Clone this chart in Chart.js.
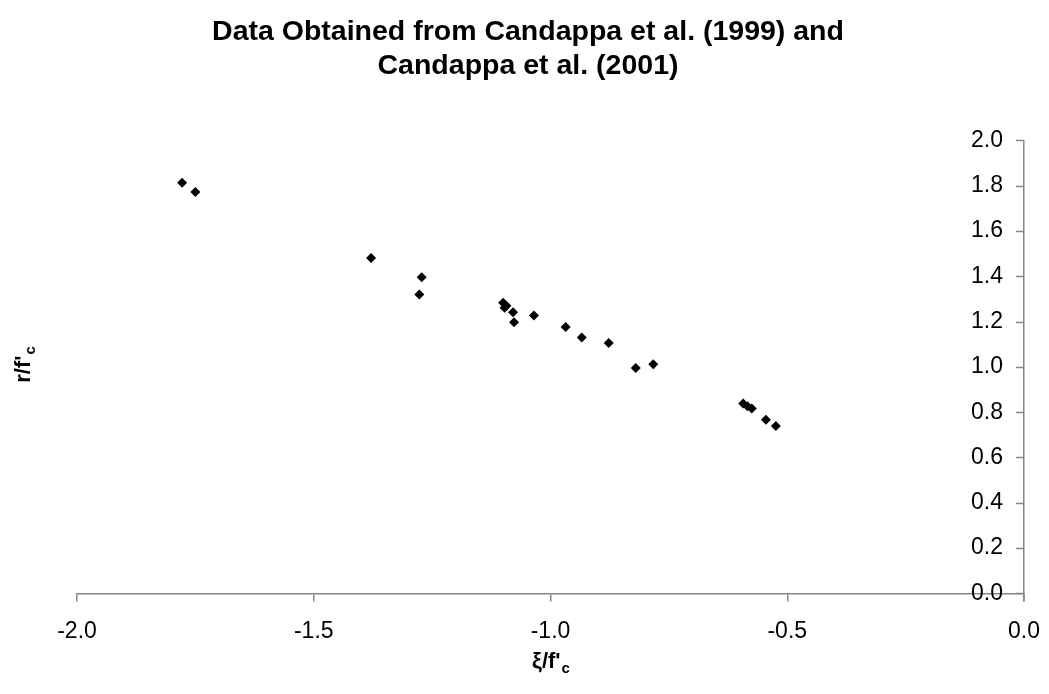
<!DOCTYPE html>
<html>
<head>
<meta charset="utf-8">
<script src="https://cdn.jsdelivr.net/npm/chart.js@4.4.1/dist/chart.umd.min.js"></script>
<style>
  body { margin: 0; background: #fff; }
  #wrap { width: 1049px; height: 694px; position: relative; }
</style>
</head>
<body>
<div id="wrap"><canvas id="chart"></canvas></div>
<script>
// Data
const titleLines = ['Data Obtained from Candappa et al. (1999) and', 'Candappa et al. (2001)'];
const xValues = [-1.778, -1.750, -1.379, -1.272, -1.277, -1.100, -1.093, -1.097, -1.079, -1.077,
                 -1.035, -0.968, -0.934, -0.877, -0.820, -0.783, -0.593, -0.584, -0.575, -0.545, -0.524];
const yValues = [1.813, 1.772, 1.481, 1.396, 1.320, 1.283, 1.270, 1.261, 1.241, 1.197,
                 1.227, 1.176, 1.130, 1.106, 0.995, 1.012, 0.838, 0.826, 0.816, 0.767, 0.739];
const xRange = [-2.0, 0.0];
const xStep = 0.5;
const yRange = [0.0, 2.0];
const yStep = 0.2;
const xTitle = ['\u03BE/f\'', 'c'];
const yTitle = ['r/f\'', 'c'];

const FONT = '"Liberation Sans", Arial, sans-serif';
const AXIS_GREY = '#868686';

const punkter = xValues.map((x, i) => ({ x: x, y: yValues[i] }));

// Axeltitlar med nedsänkt c, och y-axelns tickmarkeringar åt vänster
const axisExtras = {
    id: 'axisExtras',
    afterDraw(chart) {
        const ctx = chart.ctx;
        const area = chart.chartArea;
        const yScale = chart.scales.y;

        ctx.save();
        ctx.strokeStyle = AXIS_GREY;
        ctx.lineWidth = 1.5;
        ctx.beginPath();
        yScale.ticks.forEach(t => {
            const py = Math.round(yScale.getPixelForValue(t.value)) + 0.5;
            ctx.moveTo(area.right - 8, py);
            ctx.lineTo(area.right, py);
        });
        // x-axelns tick vid 0 fortsätter nedåt
        ctx.moveTo(area.right, area.bottom);
        ctx.lineTo(area.right, area.bottom + 8);
        ctx.stroke();

        const drawSub = (parts, cx, cy) => {
            ctx.font = 'bold 22px ' + FONT;
            const w1 = ctx.measureText(parts[0]).width;
            ctx.font = 'bold 15px ' + FONT;
            const w2 = ctx.measureText(parts[1]).width;
            let x = cx - (w1 + w2) / 2;
            ctx.fillStyle = '#000';
            ctx.textAlign = 'left';
            ctx.textBaseline = 'alphabetic';
            ctx.font = 'bold 22px ' + FONT;
            ctx.fillText(parts[0], x, cy + 8);
            ctx.font = 'bold 15px ' + FONT;
            ctx.fillText(parts[1], x + w1 + 1, cy + 13);
        };
        drawSub(xTitle, (area.left + area.right) / 2, 660);
        ctx.translate(22, 365);
        ctx.rotate(-Math.PI / 2);
        drawSub(yTitle, 0, 0);
        ctx.restore();
    }
};

new Chart(document.getElementById('chart'), {
    type: 'scatter',
    data: {
        datasets: [{
            label: 'Candappa',
            data: punkter,
            pointStyle: 'rectRot',
            pointRadius: 5,
            pointHoverRadius: 5,
            backgroundColor: '#000',
            borderColor: '#000',
            borderWidth: 0
        }]
    },
    options: {
        responsive: true,
        maintainAspectRatio: false,
        animation: false,
        layout: {
            padding: { left: 28, right: 21, top: 0, bottom: 33 }
        },
        plugins: {
            legend: { display: false },
            tooltip: { enabled: false },
            title: {
                display: true,
                text: titleLines,
                color: '#000',
                font: { family: FONT, size: 28.5, weight: 'bold', lineHeight: 1.2 },
                padding: { top: 15, bottom: 57 }
            }
        },
        scales: {
            x: {
                type: 'linear',
                position: 'bottom',
                min: xRange[0],
                max: xRange[1],
                afterFit: scale => { scale.paddingLeft = 77; scale.paddingRight = 25; },
                ticks: {
                    stepSize: xStep,
                    color: '#000',
                    padding: 16,
                    font: { family: FONT, size: 23 },
                    callback: v => v.toFixed(1)
                },
                grid: { drawOnChartArea: false, tickLength: 8, color: AXIS_GREY, lineWidth: 1.5 },
                border: { color: AXIS_GREY, width: 1.5 }
            },
            y: {
                type: 'linear',
                position: 'right',
                min: yRange[0],
                max: yRange[1],
                afterFit: scale => { scale.width = 0; },
                ticks: {
                    stepSize: yStep,
                    mirror: true,
                    color: '#000',
                    padding: -21,
                    font: { family: FONT, size: 23 },
                    callback: v => v.toFixed(1)
                },
                grid: { drawOnChartArea: false, drawTicks: false, color: AXIS_GREY, lineWidth: 1.5 },
                border: { color: AXIS_GREY, width: 1.5 }
            }
        }
    },
    plugins: [axisExtras]
});
</script>
</body>
</html>
